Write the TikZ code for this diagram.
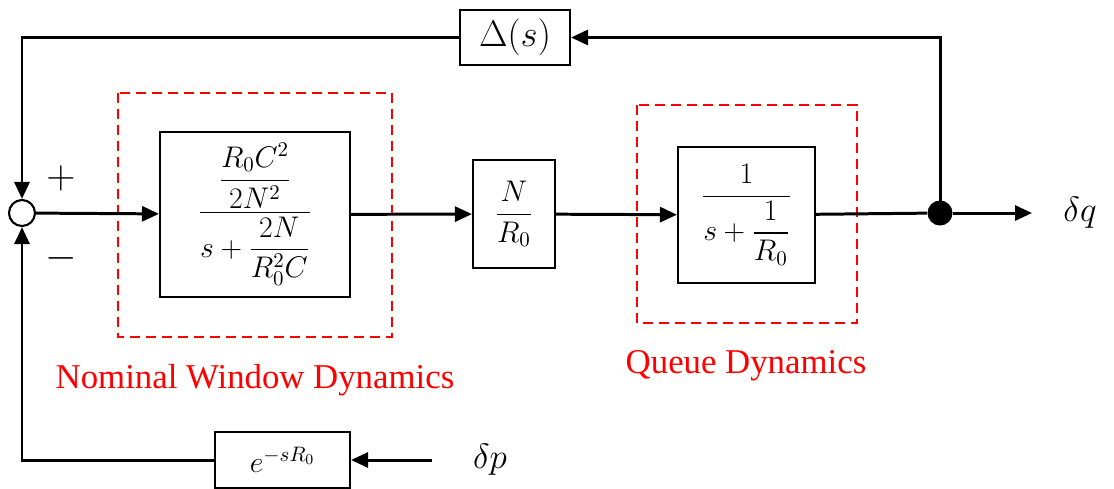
\RequirePackage{fix-cm}
\documentclass[tikz,border=0pt]{standalone}
\usepackage{amsmath}
\usepackage{fontspec}
\setmainfont{Liberation Serif}
\usetikzlibrary{arrows.meta}

\begin{document}
\begin{tikzpicture}[x=0.02cm, y=-0.02cm,
    block/.style={draw, line width=1.2pt, inner sep=0pt, font=\fontsize{17}{20}\selectfont},
    sum/.style={circle, draw, line width=1.2pt, fill=white, minimum size=0.52cm, inner sep=0pt},
    junc/.style={circle, fill=black, minimum size=0.5cm, inner sep=0pt},
    line/.style={line width=1.7pt},
    sig/.style={line, -{Triangle[length=0.34cm, width=0.3cm]}},
    frame/.style={draw=red, line width=1.1pt, dash pattern=on 0.2cm off 0.12cm},
    caption/.style={text=red, font=\fontsize{19.8}{23}\selectfont},
    every node/.style={font=\fontsize{17}{20}\selectfont}
  ]
  \useasboundingbox (0,0) rectangle (1114,488);

  % Dynamics frames
  \draw[frame] (118,93) rectangle (392,337);
  \draw[frame] (637,105) rectangle (857,323);
  \node[caption] (cap-win) at (255,380) {Nominal Window Dynamics};
  \node[caption] (cap-queue) at (746,366) {Queue Dynamics};

  % Forward path
  \node[sum] (sum) at (22,213) {};
  \node[block, minimum width=3.8cm, minimum height=3.3cm] (win) at (255,214.5)
    {$\dfrac{\dfrac{R_0C^2}{2N^2}}{s+\dfrac{2N}{R_0^2C}}$};
  \node[block, minimum width=1.64cm, minimum height=2.16cm] (gain) at (514,214)
    {$\dfrac{N}{R_0}$};
  \node[block, minimum width=2.74cm, minimum height=2.72cm] (queue) at (746.5,215)
    {$\dfrac{1}{s+\dfrac{1}{R_0}}$};
  \node[junc] (junc) at (940,213) {};
  \coordinate (out) at (1032,213);
  \node[font=\fontsize{20}{24}\selectfont] (dq) at (1080,213) {$\delta q$};

  % Feedback paths
  \node[block, minimum width=2.2cm, minimum height=1.1cm, font=\fontsize{21}{24}\selectfont] (dlt) at (515,37.5) {$\Delta(s)$};
  \node[block, minimum width=2.7cm, minimum height=1.12cm] (delay) at (282.5,460) {$e^{-sR_0}$};
  \coordinate (pin) at (432,460);
  \node[font=\fontsize{20}{24}\selectfont] (dp) at (490,460) {$\delta p$};

  % Signs
  \node[font=\fontsize{23}{26}\selectfont] (plus) at (61,178) {$+$};
  \node[font=\fontsize{23}{26}\selectfont] (minus) at (61,258) {$-$};

  % Connections
  \draw[sig] (sum) -- (win);
  \draw[sig] (win) -- (gain);
  \draw[sig] (gain) -- (queue);
  \draw[line] (queue) -- (junc);
  \draw[sig] (junc) -- (out);
  \draw[sig] (junc.center) |- (dlt);
  \draw[sig] (dlt) -| (sum);
  \draw[sig] (pin) -- (delay);
  \draw[sig] (delay) -| (sum);

\end{tikzpicture}
\end{document}
